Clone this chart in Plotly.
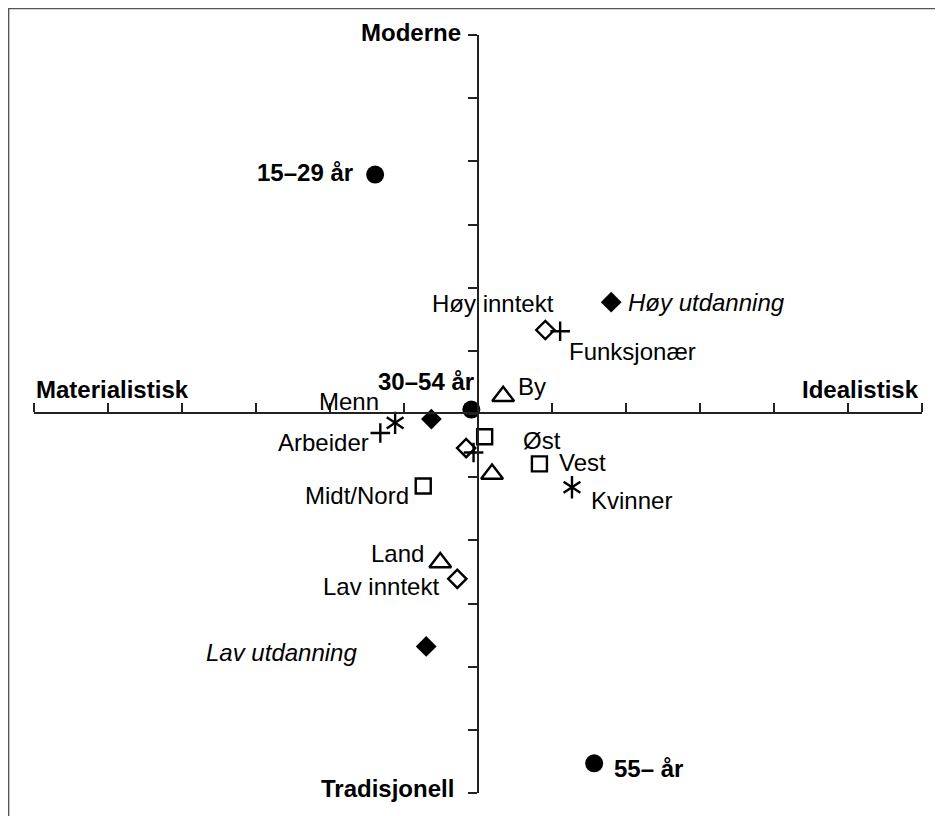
import plotly.graph_objects as go

# ---------------- data ----------------
alder_lab = ["15–29 år", "30–54 år", "55– år"]
alder_x = [-1.39, -0.09, 1.57]
alder_y = [3.79, 0.07, -5.53]

utd_lab = ["Lav utdanning", "", "Høy utdanning"]
utd_x = [-0.70, -0.63, 1.80]
utd_y = [-3.68, -0.08, 1.77]

innt_lab = ["Lav inntekt", "", "Høy inntekt"]
innt_x = [-0.28, -0.16, 0.91]
innt_y = [-2.61, -0.54, 1.33]

yrke_lab = ["Arbeider", "", "Funksjonær"]
yrke_x = [-1.32, -0.06, 1.11]
yrke_y = [-0.30, -0.61, 1.31]

kjonn_lab = ["Menn", "Kvinner"]
kjonn_x = [-1.12, 1.27]
kjonn_y = [-0.14, -1.16]

bosted_lab = ["By", "", "Land"]
bosted_x = [0.34, 0.19, -0.51]
bosted_y = [0.28, -0.95, -2.35]

landsdel_lab = ["Øst", "Vest", "Midt/Nord"]
landsdel_x = [0.09, 0.83, -0.74]
landsdel_y = [-0.36, -0.79, -1.14]

tick_vals = [-6, -5, -4, -3, -2, -1, 0, 1, 2, 3, 4, 5, 6]
axis_min, axis_max = -6, 6
end_labels = {"Materialistisk": (axis_min, 0), "Idealistisk": (axis_max, 0),
              "Moderne": (0, axis_max), "Tradisjonell": (0, axis_min)}

# ---------------- styling ----------------
W, H = 935, 808          # page has an 8px body margin
FONT = "Liberation Sans, Arial, Helvetica, sans-serif"
INK = "#000000"
AX = "#222222"

# label placement: (xanchor, xshift, yshift) in pixels
label_pos = {
    "15–29 år": ("right", -20, 2),
    "30–54 år": ("right", 5, 28),
    "55– år": ("left", 18, -5),
    "Høy utdanning": ("left", 15, 0),
    "Lav utdanning": ("right", -67, -6),
    "Høy inntekt": ("center", -52, 26),
    "Lav inntekt": ("right", -16, -8),
    "Funksjonær": ("left", 7, -20),
    "Arbeider": ("right", -9, -10),
    "Menn": ("right", -14, 21),
    "Kvinner": ("left", 17, -13),
    "By": ("left", 13, 10),
    "Land": ("right", -14, 9),
    "Øst": ("left", 36, -4),
    "Vest": ("left", 18, 1),
    "Midt/Nord": ("right", -12, -9),
}
bold_labels = set(alder_lab)
italic_labels = {"Lav utdanning", "Høy utdanning"}

fig = go.Figure()

def add(xs, ys, symbol, size, lw=2.4):
    fig.add_trace(go.Scatter(
        x=xs, y=ys, mode="markers", hoverinfo="skip",
        marker=dict(symbol=symbol, size=size, color=INK,
                    line=dict(color=INK, width=lw)),
        cliponaxis=False))

add(alder_x, alder_y, "circle", 18, lw=0)
add(utd_x, utd_y, "diamond", 16, lw=0)
add(innt_x, innt_y, "diamond-open", 14)
add(yrke_x, yrke_y, "cross-thin-open", 14)
add(kjonn_x, kjonn_y, "y-up-open", 14)
add(kjonn_x, kjonn_y, "y-down-open", 14)
add(bosted_x, bosted_y, "triangle-up-open", 19)
add(landsdel_x, landsdel_y, "square-open", 15)

annotations = []
for labs, xs, ys in [(alder_lab, alder_x, alder_y), (utd_lab, utd_x, utd_y),
                     (innt_lab, innt_x, innt_y), (yrke_lab, yrke_x, yrke_y),
                     (kjonn_lab, kjonn_x, kjonn_y), (bosted_lab, bosted_x, bosted_y),
                     (landsdel_lab, landsdel_x, landsdel_y)]:
    for lab, x, y in zip(labs, xs, ys):
        if not lab:
            continue
        xa, xs_, ys_ = label_pos[lab]
        txt = lab
        if lab in bold_labels:
            txt = "<b>" + lab + "</b>"
        elif lab in italic_labels:
            txt = "<i>" + lab + "</i>"
        annotations.append(dict(x=x, y=y, xref="x", yref="y", text=txt, showarrow=False,
                                xanchor=xa, yanchor="middle", xshift=xs_, yshift=ys_,
                                font=dict(family=FONT, size=24, color=INK)))

end_pos = {"Materialistisk": ("left", 0, 25), "Idealistisk": ("right", -1, 25),
           "Moderne": ("right", -15, 3), "Tradisjonell": ("right", -22, 5)}
for lab, (x, y) in end_labels.items():
    xa, xs_, ys_ = end_pos[lab]
    annotations.append(dict(x=x, y=y, xref="x", yref="y", text="<b>" + lab + "</b>",
                            showarrow=False, xanchor=xa, yanchor="middle",
                            xshift=xs_, yshift=ys_,
                            font=dict(family=FONT, size=24, color=INK)))

OFF = 8
x0, x1 = 34 - OFF, 922 - OFF
y_top, y_bot, y_mid, x_mid = 35 - OFF, 793 - OFF, 413 - OFF, 478 - OFF

axis_common = dict(range=[axis_min, axis_max], tickmode="array", tickvals=tick_vals,
                   ticks="outside", ticklen=9, tickwidth=1.5, tickcolor=AX,
                   showline=True, linecolor=AX, linewidth=1.5, showgrid=False,
                   zeroline=False, showticklabels=False, fixedrange=True)

fig.update_layout(
    width=W, height=H,
    margin=dict(l=0, r=0, t=0, b=0, pad=0),
    paper_bgcolor="white", plot_bgcolor="white",
    showlegend=False,
    xaxis=dict(domain=[x0 / W, x1 / W], anchor="free", position=(H - y_mid) / H,
               side="top", **axis_common),
    yaxis=dict(domain=[(H - y_bot) / H, (H - y_top) / H], anchor="free",
               position=x_mid / W, side="left", **axis_common),
    annotations=annotations,
    shapes=[dict(type="line", xref="paper", yref="paper",
                 x0=0.6 / W, x1=0.6 / W, y0=0, y1=1,
                 line=dict(color="#555555", width=1.5), layer="below"),
            dict(type="line", xref="paper", yref="paper",
                 x0=0, x1=1, y0=1 - 0.6 / H, y1=1 - 0.6 / H,
                 line=dict(color="#555555", width=1.5), layer="below")],
)

fig.write_html("out.html")
